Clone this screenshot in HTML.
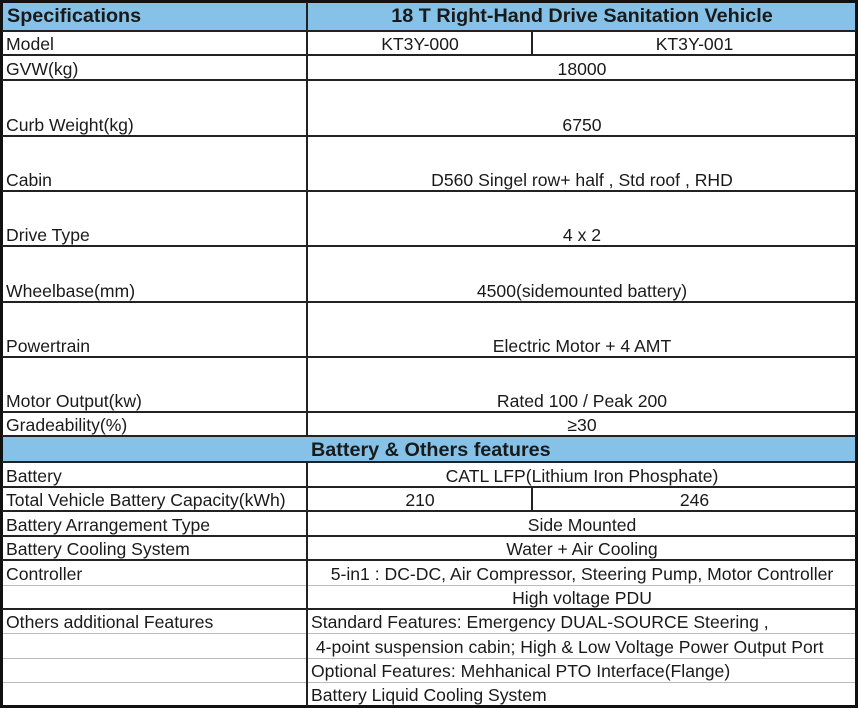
<!DOCTYPE html>
<html><head><meta charset="utf-8"><style>
body{margin:0;width:858px;height:708px;background:#fff;position:relative;overflow:hidden;font-family:"Liberation Sans",Arial,sans-serif;color:#1a1a1a}
.h{position:absolute;left:2px;width:854px;height:2px;background:#222}
.l{position:absolute;height:1px;background:#bbb}
.v{position:absolute;width:2px;background:#222}
.t{position:absolute;font-size:17.6px;line-height:18px;white-space:nowrap;margin-top:-1px}
.c{text-align:center}
.b{font-weight:bold;font-size:19.8px}
.bg{position:absolute;background:#86c2e8}
</style></head><body>
<div class="bg" style="left:2px;top:2px;width:854px;height:29px"></div>
<div class="bg" style="left:2px;top:436px;width:854px;height:26px"></div>
<div style="position:absolute;left:0;top:0;width:852px;height:702px;border:3px solid #111"></div>
<div class="h" style="top:30px"></div>
<div class="h" style="top:54px"></div>
<div class="h" style="top:79px"></div>
<div class="h" style="top:135px"></div>
<div class="h" style="top:190px"></div>
<div class="h" style="top:245px"></div>
<div class="h" style="top:301px"></div>
<div class="h" style="top:356px"></div>
<div class="h" style="top:411px"></div>
<div class="h" style="top:435px"></div>
<div class="h" style="top:461px"></div>
<div class="h" style="top:486px"></div>
<div class="h" style="top:510px"></div>
<div class="h" style="top:535px"></div>
<div class="h" style="top:559px"></div>
<div class="l" style="top:585px;left:3px;width:852px"></div>
<div class="h" style="top:608px"></div>
<div class="l" style="top:633px;left:3px;width:852px"></div>
<div class="l" style="top:658px;left:3px;width:852px"></div>
<div class="l" style="top:682px;left:3px;width:852px"></div>
<div class="v" style="left:306px;top:2px;height:434px"></div>
<div class="v" style="left:306px;top:461px;height:245px"></div>
<div class="v" style="left:531px;top:31px;height:24px"></div>
<div class="v" style="left:531px;top:487px;height:24px"></div>

<div class="t b" style="left:7px;top:8px">Specifications</div>
<div class="t b c" style="left:308px;width:548px;top:8px">18 T Right-Hand Drive Sanitation Vehicle</div>
<div class="t" style="left:6px;top:36px">Model</div>
<div class="t c" style="left:308px;width:224px;top:36px">KT3Y-000</div>
<div class="t c" style="left:533px;width:323px;top:36px">KT3Y-001</div>
<div class="t" style="left:6px;top:61px">GVW(kg)</div>
<div class="t c" style="left:308px;width:548px;top:61px">18000</div>
<div class="t" style="left:6px;top:117px">Curb Weight(kg)</div>
<div class="t c" style="left:308px;width:548px;top:117px">6750</div>
<div class="t" style="left:6px;top:172px">Cabin</div>
<div class="t c" style="left:308px;width:548px;top:172px">D560 Singel row+ half , Std roof , RHD</div>
<div class="t" style="left:6px;top:227px">Drive Type</div>
<div class="t c" style="left:308px;width:548px;top:227px">4 x 2</div>
<div class="t" style="left:6px;top:283px">Wheelbase(mm)</div>
<div class="t c" style="left:308px;width:548px;top:283px">4500(sidemounted battery)</div>
<div class="t" style="left:6px;top:338px">Powertrain</div>
<div class="t c" style="left:308px;width:548px;top:338px">Electric Motor + 4 AMT</div>
<div class="t" style="left:6px;top:393px">Motor Output(kw)</div>
<div class="t c" style="left:308px;width:548px;top:393px">Rated 100 / Peak 200</div>
<div class="t" style="left:6px;top:417px">Gradeability(%)</div>
<div class="t c" style="left:308px;width:548px;top:417px">≥30</div>
<div class="t b" style="left:311px;top:442px">Battery &amp; Others features</div>
<div class="t" style="left:6px;top:468px">Battery</div>
<div class="t c" style="left:308px;width:548px;top:468px">CATL LFP(Lithium Iron Phosphate)</div>
<div class="t" style="left:6px;top:492px">Total Vehicle Battery Capacity(kWh)</div>
<div class="t c" style="left:308px;width:224px;top:492px">210</div>
<div class="t c" style="left:533px;width:323px;top:492px">246</div>
<div class="t" style="left:6px;top:517px">Battery Arrangement Type</div>
<div class="t c" style="left:308px;width:548px;top:517px">Side Mounted</div>
<div class="t" style="left:6px;top:541px">Battery Cooling System</div>
<div class="t c" style="left:308px;width:548px;top:541px">Water + Air Cooling</div>
<div class="t" style="left:6px;top:566px">Controller</div>
<div class="t c" style="left:308px;width:548px;top:566px">5-in1 : DC-DC, Air Compressor, Steering Pump, Motor Controller</div>
<div class="t c" style="left:308px;width:548px;top:590px">High voltage PDU</div>
<div class="t" style="left:6px;top:614px">Others additional Features</div>
<div class="t" style="left:311px;top:614px">Standard Features: Emergency DUAL-SOURCE Steering ,</div>
<div class="t" style="left:311px;top:639px">&nbsp;4-point suspension cabin; High &amp; Low Voltage Power Output Port</div>
<div class="t" style="left:311px;top:663px">Optional Features: Mehhanical PTO Interface(Flange)</div>
<div class="t" style="left:311px;top:687px">Battery Liquid Cooling System</div>
</body></html>
